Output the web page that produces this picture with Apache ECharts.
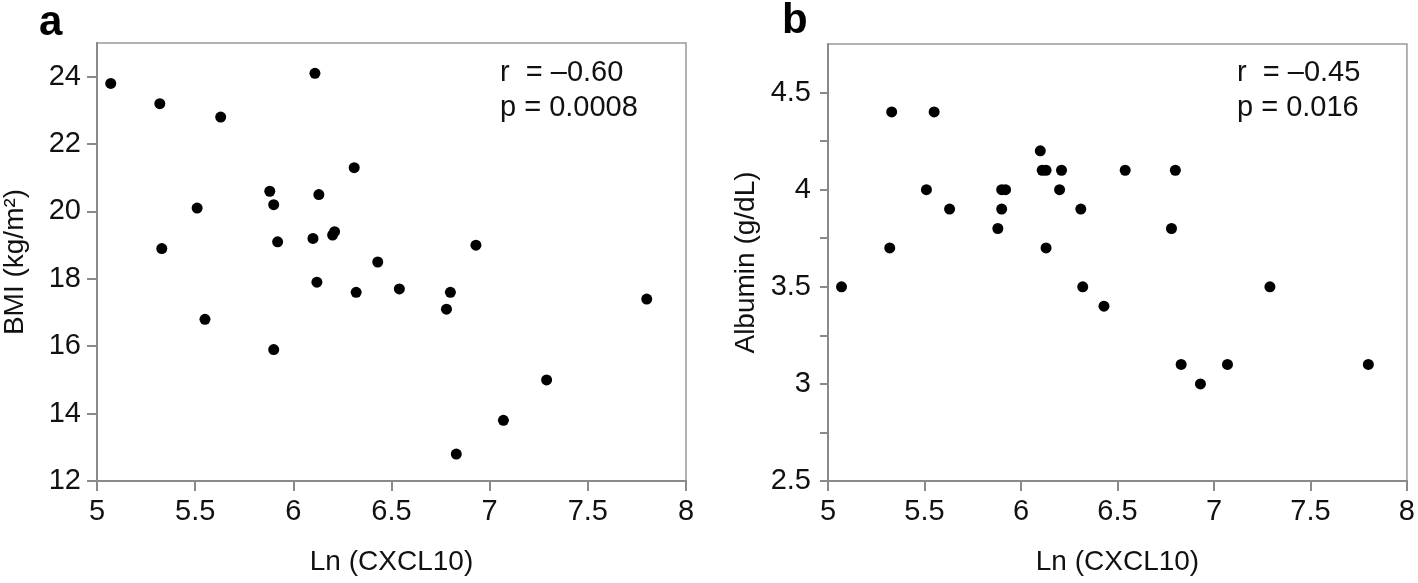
<!DOCTYPE html>
<html>
<head>
<meta charset="utf-8">
<script src="https://cdn.jsdelivr.net/npm/echarts@6/dist/echarts.min.js"></script>
<style>
html,body{margin:0;padding:0;background:#fff;}
#chart{width:1418px;height:583px;}
</style>
</head>
<body>
<div id="chart"></div>
<script>
// Panel a: Ln(CXCL10) vs BMI
const lnA = [5.07, 6.11, 5.32, 5.63, 6.31, 5.88, 6.13, 5.90, 5.51, 5.92, 6.10, 6.21, 6.20, 5.33, 6.43, 6.12, 6.32, 5.55, 5.90, 6.93, 6.54, 6.80, 6.78, 7.80, 7.29, 7.07, 6.83];
const bmi = [23.8, 24.1, 23.2, 22.8, 21.3, 20.6, 20.5, 20.2, 20.1, 19.1, 19.2, 19.4, 19.3, 18.9, 18.5, 17.9, 17.6, 16.8, 15.9, 19.0, 17.7, 17.6, 17.1, 17.4, 15.0, 13.8, 12.8];
// Panel b: Ln(CXCL10) vs Albumin
const lnB = [5.07, 5.33, 5.55, 5.32, 5.51, 5.63, 5.90, 5.92, 5.90, 5.88, 6.10, 6.11, 6.13, 6.21, 6.20, 6.13, 6.31, 6.32, 6.43, 6.54, 6.78, 6.80, 6.83, 6.93, 7.07, 7.29, 7.80];
const albumin = [3.5, 4.4, 4.4, 3.7, 4.0, 3.9, 4.0, 4.0, 3.9, 3.8, 4.2, 4.1, 4.1, 4.1, 4.0, 3.7, 3.9, 3.5, 3.4, 4.1, 3.8, 4.1, 3.1, 3.0, 3.1, 3.5, 3.1];

const xTicks = [5, 5.5, 6, 6.5, 7, 7.5, 8];
const bmiTicks = [12, 14, 16, 18, 20, 22, 24];
const albTicks = [2.5, 2.75, 3, 3.25, 3.5, 3.75, 4, 4.25, 4.5];
const albLabels = [2.5, 3, 3.5, 4, 4.5];

const statsA = ['r  = \u20130.60', 'p = 0.0008'];
const statsB = ['r  = \u20130.45', 'p = 0.016'];

const FONT = '"Liberation Sans", Arial, sans-serif';
const axisGray = '#8a8a8a';
const TICK_FS = 29;
const NAME_FS = 28;

function xAxisCfg(gridIndex) {
  return {
    gridIndex: gridIndex, type: 'value', min: 5, max: 8, interval: 0.5,
    name: 'Ln (CXCL10)', nameLocation: 'middle', nameGap: 67,
    nameTextStyle: {fontFamily: FONT, fontSize: NAME_FS, color: '#111'},
    axisLine: {show: true, lineStyle: {color: axisGray, width: 2}},
    axisTick: {show: true, length: 10, lineStyle: {color: axisGray, width: 2}, customValues: xTicks},
    axisLabel: {fontFamily: FONT, fontSize: TICK_FS, color: '#111', margin: 16, customValues: xTicks},
    splitLine: {show: false}
  };
}

const option = {
  backgroundColor: '#fff',
  animation: false,
  grid: [
    {left: 97, right: 732, top: 43, bottom: 102, show: true, borderColor: '#9a9a9a', borderWidth: 1.5, containLabel: false},
    {left: 828, right: 9, top: 44, bottom: 102, show: true, borderColor: '#9a9a9a', borderWidth: 1.5, containLabel: false}
  ],
  xAxis: [xAxisCfg(0), xAxisCfg(1)],
  yAxis: [
    {
      gridIndex: 0, type: 'value', min: 12, max: 25, interval: 1,
      name: 'BMI (kg/m\u00b2)', nameLocation: 'middle', nameGap: 68,
      nameTextStyle: {fontFamily: FONT, fontSize: NAME_FS, color: '#111'},
      axisLine: {show: true, lineStyle: {color: axisGray, width: 2}},
      axisTick: {show: true, length: 10, lineStyle: {color: axisGray, width: 2}, customValues: bmiTicks},
      axisLabel: {fontFamily: FONT, fontSize: TICK_FS, color: '#111', margin: 16, customValues: bmiTicks},
      splitLine: {show: false}
    },
    {
      gridIndex: 1, type: 'value', min: 2.5, max: 4.75, interval: 0.25,
      name: 'Albumin (g/dL)', nameLocation: 'middle', nameGap: 68,
      nameTextStyle: {fontFamily: FONT, fontSize: NAME_FS, color: '#111'},
      axisLine: {show: true, lineStyle: {color: axisGray, width: 2}},
      axisTick: {show: true, length: 8, lineStyle: {color: axisGray, width: 2}, customValues: albTicks},
      axisLabel: {fontFamily: FONT, fontSize: TICK_FS, color: '#111', margin: 17, customValues: albLabels},
      splitLine: {show: false}
    }
  ],
  series: [
    {
      type: 'scatter', xAxisIndex: 0, yAxisIndex: 0, symbol: 'circle', symbolSize: 11,
      itemStyle: {color: '#000', opacity: 1},
      data: lnA.map((x, i) => [x, bmi[i]])
    },
    {
      type: 'scatter', xAxisIndex: 1, yAxisIndex: 1, symbol: 'circle', symbolSize: 11,
      itemStyle: {color: '#000', opacity: 1},
      data: lnB.map((x, i) => [x, albumin[i]])
    }
  ],
  graphic: [
    {type: 'text', left: 39, top: 2, style: {text: 'a', font: 'bold 42px "Liberation Sans", Arial, sans-serif', fill: '#000'}},
    {type: 'text', left: 782, top: 0, style: {text: 'b', font: 'bold 42px "Liberation Sans", Arial, sans-serif', fill: '#000'}},
    {type: 'text', left: 500, top: 55, style: {text: statsA.join('\n'), font: '29px "Liberation Sans", Arial, sans-serif', lineHeight: 35, fill: '#111'}},
    {type: 'text', left: 1237, top: 55, style: {text: statsB.join('\n'), font: '29px "Liberation Sans", Arial, sans-serif', lineHeight: 35, fill: '#111'}}
  ]
};

const chart = echarts.init(document.getElementById('chart'), null, {renderer: 'canvas'});
chart.setOption(option);
</script>
</body>
</html>
